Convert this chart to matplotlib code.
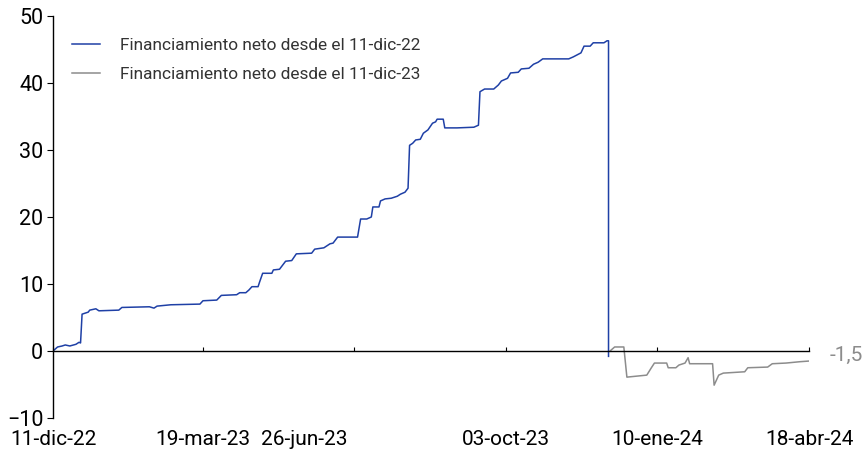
import numpy as np
import pandas as pd
import matplotlib
matplotlib.use("Agg")
import matplotlib.pyplot as plt
import matplotlib.transforms as mtransforms

plt.rcParams['font.family'] = ['Roboto', 'DejaVu Sans']

# financiamiento neto acumulado desde el 11-dic-22
dates_22 = ["2022-12-11", "2022-12-14", "2022-12-17", "2022-12-19", "2022-12-22", "2022-12-26",
            "2022-12-28", "2022-12-29", "2022-12-30", "2023-01-03", "2023-01-04", "2023-01-08",
            "2023-01-10", "2023-01-23", "2023-01-25", "2023-02-12", "2023-02-15", "2023-02-17",
            "2023-02-26", "2023-03-17", "2023-03-19", "2023-03-28", "2023-03-31", "2023-04-10",
            "2023-04-12", "2023-04-16", "2023-04-18", "2023-04-20", "2023-04-24", "2023-04-25",
            "2023-04-27", "2023-05-03", "2023-05-04", "2023-05-08", "2023-05-10", "2023-05-12",
            "2023-05-16", "2023-05-19", "2023-05-29", "2023-05-31", "2023-06-06", "2023-06-10",
            "2023-06-12", "2023-06-15", "2023-06-28", "2023-06-30", "2023-07-04", "2023-07-07",
            "2023-07-08", "2023-07-12", "2023-07-13", "2023-07-16", "2023-07-20", "2023-07-24",
            "2023-07-26", "2023-07-29", "2023-07-31", "2023-08-01", "2023-08-03", "2023-08-05",
            "2023-08-08", "2023-08-10", "2023-08-13", "2023-08-16", "2023-08-18", "2023-08-19",
            "2023-08-23", "2023-08-24", "2023-09-01", "2023-09-12", "2023-09-15", "2023-09-16",
            "2023-09-19", "2023-09-25", "2023-09-28", "2023-09-30", "2023-10-04", "2023-10-06",
            "2023-10-11", "2023-10-13", "2023-10-18", "2023-10-21", "2023-10-24", "2023-10-27",
            "2023-11-13", "2023-11-16", "2023-11-21", "2023-11-23", "2023-11-27", "2023-11-29",
            "2023-12-06", "2023-12-08", "2023-12-09", "2023-12-09"]
neto_22 = [0.0, 0.6, 0.75, 0.9, 0.75, 1.0, 1.3, 1.2, 5.5, 5.8, 6.1, 6.3,
           6.0, 6.1, 6.5, 6.6, 6.4, 6.7, 6.9, 7.0, 7.5, 7.6, 8.3, 8.4,
           8.7, 8.7, 9.1, 9.6, 9.6, 10.3, 11.6, 11.6, 12.1, 12.2, 12.8, 13.4,
           13.5, 14.5, 14.6, 15.2, 15.4, 16.0, 16.1, 17.0, 17.0, 19.7, 19.7, 20.0,
           21.5, 21.5, 22.4, 22.7, 22.8, 23.1, 23.4, 23.7, 24.3, 30.7, 31.0, 31.5,
           31.6, 32.5, 33.0, 34.0, 34.2, 34.6, 34.6, 33.3, 33.3, 33.4, 33.7, 38.7,
           39.1, 39.1, 39.7, 40.3, 40.7, 41.5, 41.6, 42.1, 42.2, 42.8, 43.1, 43.6,
           43.6, 43.9, 44.5, 45.5, 45.5, 46.0, 46.0, 46.3, 46.3, -0.8]

# financiamiento neto acumulado desde el 11-dic-23
dates_23 = ["2023-12-10", "2023-12-13", "2023-12-19", "2023-12-21", "2024-01-03", "2024-01-06",
            "2024-01-08", "2024-01-16", "2024-01-17", "2024-01-22", "2024-01-24", "2024-01-28",
            "2024-01-30", "2024-01-31", "2024-02-15", "2024-02-16", "2024-02-19", "2024-02-22",
            "2024-03-07", "2024-03-09", "2024-03-22", "2024-03-25", "2024-04-03", "2024-04-12",
            "2024-04-18"]
neto_23 = [0.0, 0.6, 0.6, -3.9, -3.6, -2.5, -1.8, -1.8, -2.5, -2.5, -2.1, -1.8,
           -1.0, -1.9, -1.9, -5.1, -3.6, -3.3, -3.1, -2.5, -2.4, -1.9, -1.8, -1.6,
           -1.5]

tick_dates = ["2022-12-11", "2023-03-19", "2023-06-26", "2023-10-03", "2024-01-10", "2024-04-18"]
tick_labels = ["11-dic-22", "19-mar-23", "26-jun-23", "03-oct-23", "10-ene-24", "18-abr-24"]
label_22 = "Financiamiento neto desde el 11-dic-22"
label_23 = "Financiamiento neto desde el 11-dic-23"

x22 = pd.to_datetime(dates_22)
x23 = pd.to_datetime(dates_23)
xt = pd.to_datetime(tick_dates)

fig = plt.figure(figsize=(8.65, 4.57), dpi=100)
ax = fig.add_axes([53 / 865, 39 / 457, 756 / 865, 402 / 457])

ax.plot(x22, neto_22, color='#1f40a6', lw=1.1, label=label_22)
ax.plot(x23, neto_23, color='#8c8c8c', lw=1.1, label=label_23)

ax.set_xlim(xt[0], xt[-1])
ax.set_ylim(-10, 50)
ax.set_yticks(np.arange(-10, 51, 10))

ax.spines['top'].set_visible(False)
ax.spines['right'].set_visible(False)
ax.spines['bottom'].set_position(('data', 0))
ax.spines['left'].set_linewidth(1.0)
ax.spines['bottom'].set_linewidth(1.0)

ax.set_xticks(xt)
ax.set_xticklabels(tick_labels)
ax.tick_params(axis='x', direction='in', length=3, width=0.8, pad=57, labelsize=15, colors='black')
ax.tick_params(axis='y', direction='out', length=4, width=0.8, pad=3, labelsize=15.5, colors='black')

# la etiqueta de junio aparece desplazada a la izquierda en el original
lbl = ax.get_xticklabels()[2]
lbl.set_transform(lbl.get_transform() + mtransforms.ScaledTranslation(-0.5, 0, fig.dpi_scale_trans))

ax.annotate("-1,5", xy=(x23[-1], neto_23[-1]), xytext=(15, 4), textcoords='offset points',
            color='#8c8c8c', fontsize=15, va='center', ha='left', annotation_clip=False)

leg = ax.legend(loc='upper left', bbox_to_anchor=(0.005, 0.985), frameon=False, fontsize=12.4,
                handlelength=1.6, handletextpad=1.15, labelspacing=0.85)
for t in leg.get_texts():
    t.set_color('#333333')

fig.savefig("out.png", dpi=100)
